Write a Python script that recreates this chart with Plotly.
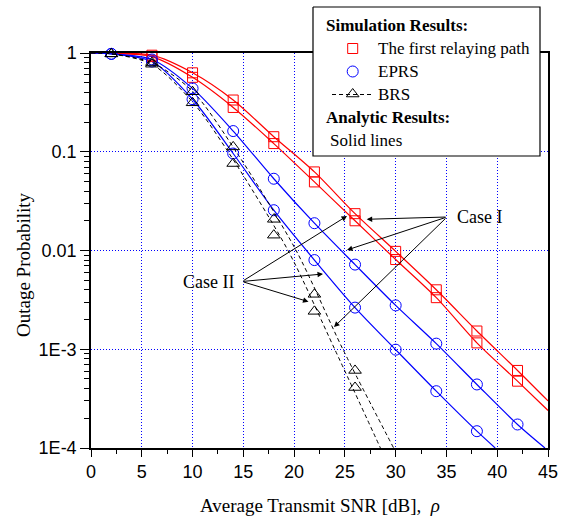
import plotly.graph_objects as go

# ---------------- data ----------------
# simulation markers
x_red_sim = [6, 10, 14, 18, 22, 26, 30, 34, 38, 42]
red_a_sim = [0.95, 0.63, 0.334, 0.142, 0.0625, 0.0236, 0.0098, 0.0040, 0.00153, 0.00061]
red_b_sim = [0.92, 0.567, 0.281, 0.121, 0.0495, 0.020, 0.0081, 0.00333, 0.00116, 0.000475]

x_blue_a_sim = [2, 6, 10, 14, 18, 22, 26, 30, 34, 38, 42]
blue_a_sim = [0.98, 0.86, 0.438, 0.162, 0.0533, 0.0189, 0.0072, 0.00278, 0.00114, 0.00044, 0.000173]
x_blue_b_sim = [2, 6, 10, 14, 18, 22, 26, 30, 34, 38]
blue_b_sim = [0.98, 0.82, 0.34, 0.096, 0.0256, 0.0080, 0.00264, 0.00099, 0.000376, 0.000148]

x_brs_sim = [2, 6, 10, 14, 18, 22, 26]
brs_a_sim = [0.98, 0.80, 0.405, 0.112, 0.0207, 0.0036, 0.00061]
brs_b_sim = [0.98, 0.77, 0.313, 0.076, 0.0143, 0.00242, 0.00041]

# analytic curves
x_red_an = [0, 2, 6, 10, 14, 18, 22, 26, 30, 34, 38, 42, 45]
red_a_an = [1.0, 0.995, 0.95, 0.63, 0.334, 0.142, 0.0625, 0.0236, 0.0098, 0.0040, 0.00153, 0.00061, 0.0003]
red_b_an = [1.0, 0.99, 0.92, 0.567, 0.281, 0.121, 0.0495, 0.020, 0.0081, 0.00333, 0.00116, 0.000475, 0.00024]

x_blue_a_an = [0, 2, 6, 10, 14, 18, 22, 26, 30, 34, 38, 42, 44.7]
blue_a_an = [1.0, 0.98, 0.86, 0.438, 0.162, 0.0533, 0.0189, 0.0072, 0.00278, 0.00114, 0.00044, 0.000173, 0.0001]
x_blue_b_an = [0, 2, 6, 10, 14, 18, 22, 26, 30, 34, 38, 39.8]
blue_b_an = [1.0, 0.98, 0.82, 0.34, 0.096, 0.0256, 0.0080, 0.00264, 0.00099, 0.000376, 0.000148, 0.0001]

x_brs_a_an = [0, 2, 6, 10, 14.3, 20.2, 24.8, 29.8]
brs_a_an = [1.0, 0.98, 0.80, 0.41, 0.1, 0.01, 0.001, 0.0001]
x_brs_b_an = [0, 2, 6, 10, 13.5, 19.4, 24.0, 28.5]
brs_b_an = [1.0, 0.98, 0.77, 0.32, 0.1, 0.01, 0.001, 0.0001]

x_ticks = [0, 5, 10, 15, 20, 25, 30, 35, 40, 45]
y_tickvals = [1e-4, 1e-3, 1e-2, 1e-1, 1]
y_ticktext = ["1E-4", "1E-3", "0.01", "0.1", "1"]

legend_sim_title = "Simulation Results:"
legend_names = ["The first relaying path", "EPRS", "BRS"]
legend_an_title = "Analytic Results:"
legend_an_text = "Solid lines"

RED = "#ff0000"
BLUE = "#0000ff"
BLACK = "#000000"
SERIF = "Liberation Serif"
SANS = "Liberation Sans"

W, H = 570, 517
L, R, T, B = 91, 548, 53, 448

fig = go.Figure()

def line(x, y, color, dash="solid", width=1.2):
    fig.add_trace(go.Scatter(x=x, y=y, mode="lines", line=dict(color=color, width=width, dash=dash,
                                                                  shape="spline", smoothing=0.8),
                             showlegend=False, hoverinfo="skip"))

def marks(x, y, color, symbol, size):
    fig.add_trace(go.Scatter(x=x, y=y, mode="markers", cliponaxis=False,
                             marker=dict(symbol=symbol, size=size, color=color,
                                         line=dict(color=color, width=1)),
                             showlegend=False, hoverinfo="skip"))

line(x_red_an, red_a_an, RED)
line(x_red_an, red_b_an, RED)
line(x_blue_a_an, blue_a_an, BLUE)
line(x_blue_b_an, blue_b_an, BLUE)
line(x_brs_a_an, brs_a_an, BLACK, dash="4px,3px", width=1)
line(x_brs_b_an, brs_b_an, BLACK, dash="4px,3px", width=1)

marks(x_red_sim, red_a_sim, RED, "square-open", 10)
marks(x_red_sim, red_b_sim, RED, "square-open", 10)
marks(x_blue_a_sim, blue_a_sim, BLUE, "circle-open", 11)
marks(x_blue_b_sim, blue_b_sim, BLUE, "circle-open", 11)
marks(x_brs_sim, brs_a_sim, BLACK, "triangle-up-open", 11)
marks(x_brs_sim, brs_b_sim, BLACK, "triangle-up-open", 11)

# ---------- legend box drawn in a pixel-coordinate overlay subplot ----------
bx0, by0, bx1, by1 = 313, 7, 540, 156
fig.add_trace(go.Scatter(x=[bx0, bx1, bx1, bx0, bx0], y=[by0, by0, by1, by1, by0],
                         xaxis="x2", yaxis="y2", mode="lines", fill="toself",
                         fillcolor="white", line=dict(color=BLACK, width=1.2),
                         showlegend=False, hoverinfo="skip", cliponaxis=False))
fig.add_trace(go.Scatter(x=[352.7], y=[48.5], xaxis="x2", yaxis="y2", mode="markers",
                         marker=dict(symbol="square-open", size=10, color=RED, line=dict(color=RED, width=1)),
                         showlegend=False, hoverinfo="skip", cliponaxis=False))
fig.add_trace(go.Scatter(x=[352.7], y=[71.5], xaxis="x2", yaxis="y2", mode="markers",
                         marker=dict(symbol="circle-open", size=11, color=BLUE, line=dict(color=BLUE, width=1)),
                         showlegend=False, hoverinfo="skip", cliponaxis=False))
fig.add_trace(go.Scatter(x=[332, 372.7], y=[94.5, 94.5], xaxis="x2", yaxis="y2", mode="lines",
                         line=dict(color=BLACK, width=1, dash="4px,3px"),
                         showlegend=False, hoverinfo="skip", cliponaxis=False))
fig.add_trace(go.Scatter(x=[352.7], y=[94], xaxis="x2", yaxis="y2", mode="markers",
                         marker=dict(symbol="triangle-up-open", size=11, color=BLACK,
                                     line=dict(color=BLACK, width=1)),
                         showlegend=False, hoverinfo="skip", cliponaxis=False))

ann = []
def txt(x, y, s, size=17, anchor="left", font=SERIF, **kw):
    ann.append(dict(x=x, y=y, xref="x2", yref="y2", text=s, showarrow=False,
                    xanchor=anchor, yanchor="middle",
                    font=dict(family=font, size=size, color=BLACK), **kw))

txt(324, 25, "<b>" + legend_sim_title + "</b>")
txt(376, 48, legend_names[0])
txt(376, 71, legend_names[1])
txt(376, 94, legend_names[2])
txt(324, 117, "<b>" + legend_an_title + "</b>")
txt(328, 140, legend_an_text)

# case labels
txt(455, 217, "Case I", size=18)
txt(181, 282, "Case II", size=18)

def arrow(tail, tip):
    ann.append(dict(x=tip[0], y=tip[1], ax=tail[0], ay=tail[1], xref="x2", yref="y2",
                    axref="x2", ayref="y2", text="", showarrow=True, arrowhead=2,
                    arrowsize=1.1, arrowwidth=1, arrowcolor=BLACK, standoff=0, startstandoff=0))

for tip in [(366.7, 219.3), (347, 250), (334, 327)]:
    arrow((447, 217), tip)
for tip in [(347, 216), (323, 274), (308.5, 301.7)]:
    arrow((242, 281.5), tip)

# axis titles
txt(320, 505, "Average Transmit SNR [dB],  <i>ρ</i>", size=19, anchor="center")
ann.append(dict(x=23, y=265, xref="x2", yref="y2", text="Outage Probability", showarrow=False,
                textangle=-90, xanchor="center", yanchor="middle",
                font=dict(family=SERIF, size=19, color=BLACK)))

GRID_DASH = "1px,2px"

fig.update_layout(
    width=W, height=H, autosize=False,
    margin=dict(l=0, r=0, t=0, b=0, pad=0, autoexpand=False),
    paper_bgcolor="white", plot_bgcolor="rgba(0,0,0,0)",
    showlegend=False,
    annotations=ann,
    xaxis=dict(domain=[L / W, R / W], range=[0, 45], tickvals=x_ticks, automargin=False,
               ticks="outside", ticklen=7, tickwidth=1, tickcolor=BLACK,
               showline=True, mirror=True, linecolor=BLACK, linewidth=1.5,
               showgrid=True, gridcolor=BLUE, griddash=GRID_DASH, gridwidth=1, zeroline=False,
               tickfont=dict(family=SANS, size=18, color=BLACK),
               minor=dict(dtick=2.5, tick0=0, ticks="outside", ticklen=4, tickcolor=BLACK, showgrid=False),
               anchor="y", fixedrange=True),
    yaxis=dict(domain=[1 - B / H, 1 - T / H], type="log", range=[-4, 0], automargin=False,
               tickvals=y_tickvals, ticktext=y_ticktext,
               ticks="outside", ticklen=9, tickwidth=1, tickcolor=BLACK,
               showline=True, mirror=True, linecolor=BLACK, linewidth=1.5,
               showgrid=True, gridcolor=BLUE, griddash=GRID_DASH, gridwidth=1, zeroline=False,
               tickfont=dict(family=SANS, size=18, color=BLACK),
               minor=dict(dtick="D1", ticks="outside", ticklen=5, tickcolor=BLACK, showgrid=False),
               anchor="x", fixedrange=True),
    xaxis2=dict(domain=[0, 1], range=[0, W], visible=False, anchor="y2", fixedrange=True, automargin=False),
    yaxis2=dict(domain=[0, 1], range=[H, 0], visible=False, anchor="x2", fixedrange=True, automargin=False),
)

fig.write_html("out.html", config={"displayModeBar": False},
               post_script="document.body.style.margin='0px';document.body.style.overflow='hidden';")
